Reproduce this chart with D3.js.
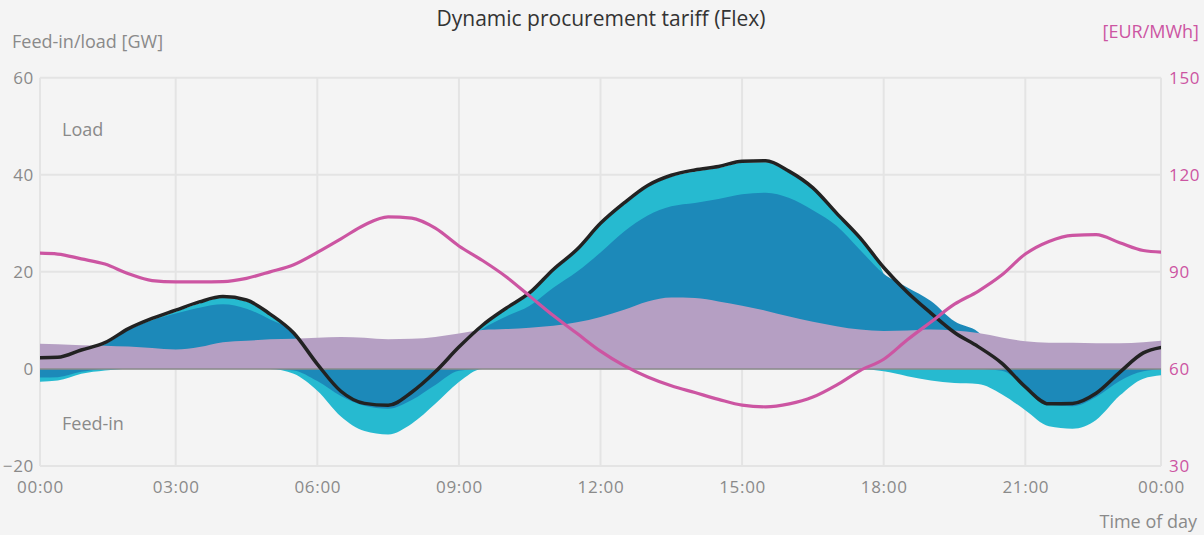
<!DOCTYPE html>
<html>
<head>
<meta charset="utf-8">
<script src="https://cdn.jsdelivr.net/npm/d3@7"></script>
<style>
  body { margin: 0; background: #f4f4f4; }
  text { font-family: "Open Sans", sans-serif; }
</style>
</head>
<body>
<svg id="chart"></svg>
<script>
// half-hourly samples, 00:00 .. 24:00
const hours = d3.range(0, 24.01, 0.5);

// black line: net load [GW]
const netLoad = [2.3, 2.4, 3.9, 5.4, 8.3, 10.4, 12.1, 13.8, 14.9, 14.2, 11.3, 7.4,
  1.0, -4.6, -7.1, -7.5, -4.8, -0.6, 4.5, 9.0, 12.5, 15.7, 20.5, 24.6,
  30.0, 34.2, 37.8, 39.9, 41.0, 41.7, 42.8, 42.9, 40.7, 37.3, 32.1, 27.0,
  20.9, 15.8, 11.5, 7.5, 4.6, 1.2, -3.7, -7.2, -7.1, -5.0, -0.7, 3.3, 4.6];

// light cyan band (upper / lower edge) [GW]
const cyanTop = [2.0, 2.1, 3.6, 5.1, 8.0, 10.1, 11.8, 13.5, 14.6, 13.9, 11.0, 7.1,
  0.7, 0, 0, 0, 0, 0, 4.2, 8.7, 12.2, 15.4, 20.2, 24.3,
  29.7, 33.9, 37.5, 39.6, 40.7, 41.4, 42.5, 42.6, 40.4, 37.0, 31.8, 26.7,
  19.5, 0, 0, 0, 0, 0, 0, 0, 0, 0, 0, 3.0, 4.3];
const cyanBottom = [-2.7, -2.4, -1.0, -0.3, 0, 0, 0, 0, 0, 0, 0, -1.0,
  -4.5, -9.8, -12.8, -13.5, -11.3, -7.2, -2.7, 0, 0, 0, 0, 0,
  0, 0, 0, 0, 0, 0, 0, 0, 0, 0, 0, 0,
  -0.5, -1.5, -2.4, -2.9, -3.1, -5.2, -8.5, -11.8, -12.3, -10.5, -5.5, -2.0, -1.2];

// dark blue band (upper / lower edge) [GW]
const blueTop = [2.0, 2.2, 3.6, 5.0, 8.0, 10.0, 11.4, 12.6, 13.3, 12.4, 10.2, 7.5,
  0, 0, 0, 0, 0, 0, 4.0, 8.2, 10.8, 13.0, 16.7, 20.0,
  24.0, 28.3, 31.6, 33.5, 34.2, 35.0, 36.0, 36.3, 35.2, 32.7, 29.5, 24.5,
  19.6, 16.8, 14.0, 9.8, 7.6, 2.0, 0, 0, 0, 0, 0, 2.0, 4.0];
const blueBottom = [-1.8, -1.7, -0.6, 0, 0, 0, 0, 0, 0, 0, 0, -0.3,
  -2.5, -5.6, -7.6, -8.2, -6.4, -3.3, -0.4, 0, 0, 0, 0, 0,
  0, 0, 0, 0, 0, 0, 0, 0, 0, 0, 0, 0,
  0, 0, 0, 0, 0, -0.4, -3.7, -7.4, -7.7, -5.8, -2.5, -0.5, 0];

// purple band [GW]
const purple = [5.2, 5.1, 4.9, 4.8, 4.6, 4.3, 4.0, 4.5, 5.5, 5.8, 6.1, 6.2,
  6.4, 6.6, 6.4, 6.1, 6.2, 6.6, 7.3, 8.0, 8.2, 8.5, 8.9, 9.6,
  10.7, 12.2, 13.9, 14.7, 14.6, 13.9, 13.0, 12.0, 10.8, 9.7, 8.8, 8.1,
  7.8, 7.9, 8.1, 7.9, 7.4, 6.5, 5.7, 5.4, 5.4, 5.3, 5.3, 5.5, 5.9];

// magenta line: tariff [EUR/MWh]
const price = [95.8, 95.5, 94.0, 92.4, 89.4, 87.3, 86.9, 86.9, 87.0, 88.0, 90.0, 92.2,
  96.0, 100.2, 104.5, 107.0, 106.6, 103.5, 98.0, 93.5, 88.5, 82.5, 76.5, 71.0,
  65.5, 61.0, 57.5, 54.8, 52.7, 50.6, 48.8, 48.3, 49.2, 51.3, 55.0, 59.5,
  63.0, 69.0, 74.5, 80.0, 84.0, 89.0, 95.5, 99.4, 101.3, 101.5, 99.0, 96.6, 96.0];

const leftTicks = [-20, 0, 20, 40, 60];
const rightTicks = [30, 60, 90, 120, 150];
const timeTicks = [3, 6, 9, 12, 15, 18, 21];

const width = 1204, height = 535;
const plot = { left: 40, right: 1161, top: 77.7, bottom: 466 };

const svg = d3.select('#chart')
  .attr('width', width)
  .attr('height', height)
  .style('background', '#f4f4f4');

// data are quarter-hour centred, so the visible range is 00:07.5 .. 23:52.5
const x = d3.scaleLinear().domain([0.125, 23.875]).range([plot.left, plot.right]);
const y = d3.scaleLinear().domain([-20, 60]).range([plot.bottom, plot.top]);
const yR = d3.scaleLinear().domain([30, 150]).range([plot.bottom, plot.top]);

const grey = '#8a8a8a';
const magenta = '#cc55a2';

// grid
const grid = svg.append('g').attr('class', 'grid');
grid.selectAll('.hgrid')
  .data(leftTicks)
  .enter().append('line')
  .attr('x1', plot.left).attr('x2', plot.right)
  .attr('y1', d => y(d)).attr('y2', d => y(d))
  .attr('stroke', '#e4e4e4').attr('stroke-width', 2);
grid.selectAll('.vgrid')
  .data([0.125].concat(timeTicks, [23.875]))
  .enter().append('line')
  .attr('x1', d => x(d)).attr('x2', d => x(d))
  .attr('y1', plot.top).attr('y2', plot.bottom)
  .attr('stroke', '#e4e4e4').attr('stroke-width', 2);

svg.append('clipPath').attr('id', 'clip')
  .append('rect')
  .attr('x', plot.left).attr('y', plot.top)
  .attr('width', plot.right - plot.left).attr('height', plot.bottom - plot.top);

const g = svg.append('g').attr('clip-path', 'url(#clip)');

const band = (lo, hi) => d3.area()
  .x((d, i) => x(hours[i]))
  .y0((d, i) => y(lo[i]))
  .y1((d, i) => y(hi[i]))
  .curve(d3.curveMonotoneX);

const zeros = hours.map(() => 0);

g.append('path').datum(hours).attr('d', band(cyanBottom, cyanTop)).attr('fill', '#26bad0');
g.append('path').datum(hours).attr('d', band(blueBottom, blueTop)).attr('fill', '#1c89b9');
g.append('path').datum(hours).attr('d', band(zeros, purple)).attr('fill', '#b59fc3');

g.append('line')
  .attr('x1', plot.left).attr('x2', plot.right)
  .attr('y1', y(0)).attr('y2', y(0))
  .attr('stroke', grey).attr('stroke-width', 1.5);

g.append('path')
  .datum(netLoad)
  .attr('d', d3.line().x((d, i) => x(hours[i])).y(d => y(d)).curve(d3.curveMonotoneX))
  .attr('fill', 'none').attr('stroke', '#222').attr('stroke-width', 3.5)
  .attr('stroke-linejoin', 'round');

g.append('path')
  .datum(price)
  .attr('d', d3.line().x((d, i) => x(hours[i])).y(d => yR(d)).curve(d3.curveMonotoneX))
  .attr('fill', 'none').attr('stroke', magenta).attr('stroke-width', 3.2)
  .attr('stroke-linejoin', 'round');

// axes
const tickFont = sel => sel.style('font-size', '17px').style('letter-spacing', '0.7px')
  .style('font-family', '"Open Sans", sans-serif');

const leftAxis = svg.append('g')
  .attr('transform', `translate(${plot.left},0)`)
  .call(d3.axisLeft(y).tickValues(leftTicks).tickSize(0).tickPadding(6)
    .tickFormat(d => d < 0 ? '\u2212' + Math.abs(d) : d));
leftAxis.select('.domain').remove();
leftAxis.selectAll('text').attr('fill', grey).call(tickFont);

const rightAxis = svg.append('g')
  .attr('transform', `translate(${plot.right},0)`)
  .call(d3.axisRight(yR).tickValues(rightTicks).tickSize(0).tickPadding(8));
rightAxis.select('.domain').remove();
rightAxis.selectAll('text').attr('fill', magenta).call(tickFont);

const fmtTime = d => d < 1 || d > 23 ? '00:00' : String(d).padStart(2, '0') + ':00';
const bottomAxis = svg.append('g')
  .attr('transform', `translate(0,${plot.bottom})`)
  .call(d3.axisBottom(x).tickValues([0.125].concat(timeTicks, [23.875]))
    .tickSize(0).tickPadding(15).tickFormat(fmtTime));
bottomAxis.select('.domain').remove();
bottomAxis.selectAll('text').attr('fill', grey).call(tickFont);

// titles and labels
svg.append('text')
  .attr('x', 601).attr('y', 26)
  .attr('text-anchor', 'middle')
  .attr('fill', '#333')
  .style('font-size', '21px')
  .text('Dynamic procurement tariff (Flex)');

svg.append('text')
  .attr('x', 12).attr('y', 48)
  .attr('fill', grey).style('font-size', '18px')
  .text('Feed-in/load [GW]');

svg.append('text')
  .attr('x', 1199).attr('y', 38)
  .attr('text-anchor', 'end')
  .attr('fill', magenta).style('font-size', '18px')
  .text('[EUR/MWh]');

svg.append('text')
  .attr('x', 1197).attr('y', 528)
  .attr('text-anchor', 'end')
  .attr('fill', grey).style('font-size', '18px')
  .text('Time of day');

svg.append('text')
  .attr('x', 62).attr('y', 136)
  .attr('fill', grey).style('font-size', '18px')
  .text('Load');

svg.append('text')
  .attr('x', 62).attr('y', 430)
  .attr('fill', grey).style('font-size', '18px')
  .text('Feed-in');
</script>
</body>
</html>
